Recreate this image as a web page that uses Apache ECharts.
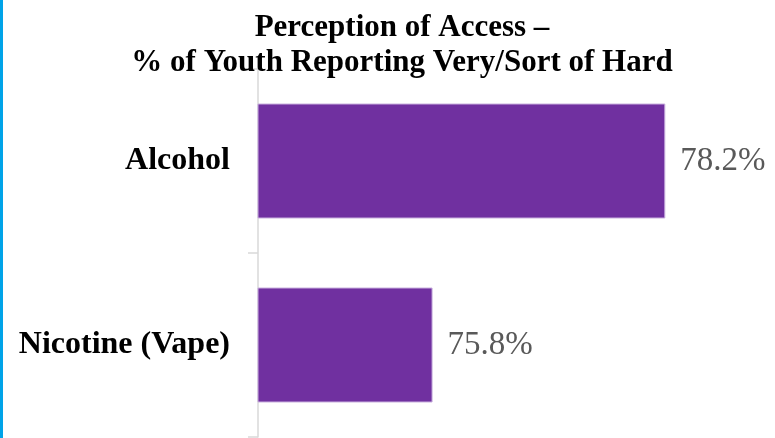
<!DOCTYPE html>
<html>
<head>
<meta charset="utf-8">
<script src="https://cdn.jsdelivr.net/npm/echarts@6/dist/echarts.min.js"></script>
<style>html,body{margin:0;padding:0;background:#fff}#c{width:775px;height:438px}</style>
</head>
<body>
<div id="c"></div>
<script>
const categories = ['Alcohol', 'Nicotine (Vape)'];
const values = [78.2, 75.8];
const titleLines = ['Perception of Access –', '% of Youth Reporting Very/Sort of Hard'];

const chart = echarts.init(document.getElementById('c'), null, {renderer: 'canvas'});
chart.setOption({
  animation: false,
  backgroundColor: '#fff',
  title: {
    text: titleLines.join('\n'),
    left: 397, top: 5, textAlign: 'center',
    textStyle: {fontFamily: 'Liberation Serif', fontWeight: 'bold', fontSize: 31, lineHeight: 35, color: '#000'}
  },
  graphic: [{type: 'rect', left: 0, top: 0, shape: {width: 3, height: 438}, style: {fill: '#00A3E8'}, z: 10}],
  grid: {left: 258, top: 69, width: 514, height: 368, containLabel: false},
  xAxis: {type: 'value', min: 74, max: 79.3, show: false},
  yAxis: {
    type: 'category', data: categories, inverse: true,
    axisLine: {show: true, lineStyle: {color: '#d9d9d9', width: 1.5}},
    axisTick: {show: true, length: 10, lineStyle: {color: '#d9d9d9', width: 1.5}},
    axisLabel: {margin: 28, color: '#000', fontFamily: 'Liberation Serif', fontWeight: 'bold', fontSize: 32},
    splitLine: {show: false}
  },
  series: [{
    type: 'bar', data: values, barWidth: 115,
    itemStyle: {color: '#7030A0', borderColor: '#c9b0de', borderWidth: 1},
    label: {show: true, position: 'right', distance: 15, formatter: '{c}%', color: '#595959', fontFamily: 'Liberation Serif', fontSize: 33}
  }]
});
</script>
</body>
</html>
